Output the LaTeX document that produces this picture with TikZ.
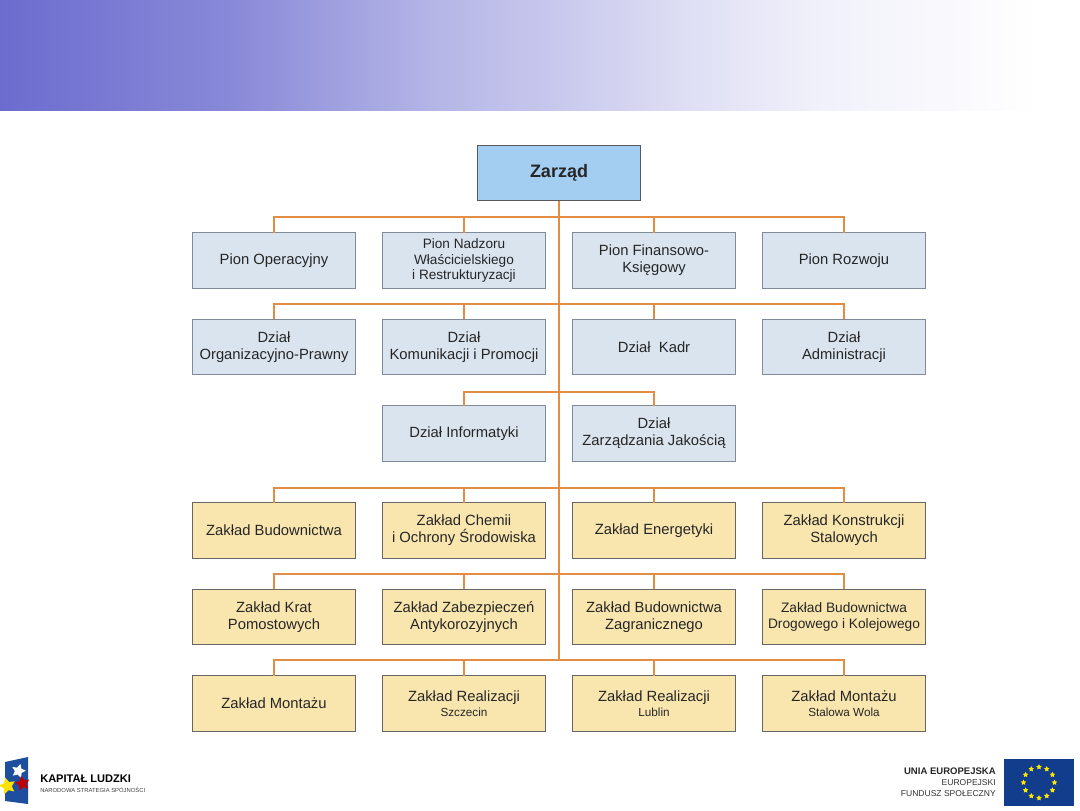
\documentclass[tikz,border=0pt]{standalone}
\usepackage{fontspec}
\setmainfont{Liberation Sans}
\usepackage{tikz}
\usetikzlibrary{
  positioning,
  calc,
  shapes.geometric
}
\definecolor{bannerblue}{HTML}{6C6CCF}
\definecolor{boardfill}{HTML}{A3CEF1}
\definecolor{pionfill}{HTML}{DAE4EE}
\definecolor{plantfill}{HTML}{F9E6AE}
\definecolor{edgegray}{HTML}{7F8B99}
\definecolor{wireorange}{HTML}{E28D43}
\definecolor{flagblue}{HTML}{123C8C}
\definecolor{logoblue}{HTML}{1D4F9E}
\pgfdeclarehorizontalshading{bannerfade}{100bp}{
  color(0bp)=(bannerblue);
  color(25bp)=(bannerblue);
  color(35.9bp)=(bannerblue!80!white);
  color(45.2bp)=(bannerblue!50!white);
  color(50bp)=(bannerblue!39!white);
  color(57bp)=(bannerblue!22!white);
  color(62.8bp)=(bannerblue!10!white);
  color(73.1bp)=(white);
  color(100bp)=(white)
}
\tikzset{
  unit/.style={
    draw=edgegray,
    semithick,
    minimum width=122.5pt,
    minimum height=41.5pt,
    outer sep=0pt,
    align=center,
    inner sep=0pt,
    font=\fontsize{11.1pt}{12.6pt}\selectfont,
    text=black!85,
  },
  board/.style={
    unit,
    fill=boardfill,
    draw=black!65,
    font=\fontsize{13.5pt}{15pt}\selectfont\bfseries,
  },
  pion/.style={
    unit,
    fill=pionfill,
  },
  plant/.style={
    unit,
    fill=plantfill,
    draw=black!60,
  },
  wire/.style={
    draw=wireorange,
    line width=1.3pt,
  },
  logostar/.style={
    star,
    star point ratio=2,
    inner sep=0pt,
  },
  eustar/.style={
    logostar,
    fill=yellow!90!orange,
    minimum size=4.4pt,
  },
}
\newcommand{\sublabel}[1]{\\[-1.3pt]{\fontsize{8.8pt}{9pt}\selectfont #1}}

\begin{document}
\begin{tikzpicture}[x=0.75pt,y=-0.75pt,node distance=23.3pt and 20pt]
	\useasboundingbox (0,0) rectangle (1080,810);

	% banner
	\fill[shading=bannerfade] (0,0) rectangle (1080,110.7);

	% units
	\node[board] (zarzad) at (559,173) {Zarząd};

	\node[pion] (p1) at (274,260.5) {Pion Operacyjny};
	\node[pion,right=of p1,font=\fontsize{10.2pt}{11.5pt}\selectfont] (p2) {Pion Nadzoru\\Właścicielskiego\\i Restrukturyzacji};
	\node[pion,right=of p2] (p3) {Pion Finansowo-\\Księgowy};
	\node[pion,right=of p3] (p4) {Pion Rozwoju};

	\node[pion,below=of p1] (d1) {Dział\\Organizacyjno-Prawny};
	\node[pion,right=of d1] (d2) {Dział\\Komunikacji i Promocji};
	\node[pion,right=of d2] (d3) {Dział\ \ Kadr};
	\node[pion,right=of d3] (d4) {Dział\\Administracji};

	\node[pion,below=of d2] (i1) {Dział Informatyki};
	\node[pion,right=of i1] (i2) {Dział\\Zarządzania Jakością};

	\node[plant] (z1) at (274,530.5) {Zakład Budownictwa};
	\node[plant,right=of z1] (z2) {Zakład Chemii\\i Ochrony Środowiska};
	\node[plant,right=of z2] (z3) {Zakład Energetyki};
	\node[plant,right=of z3] (z4) {Zakład Konstrukcji\\Stalowych};

	\node[plant,below=of z1] (k1) {Zakład Krat\\Pomostowych};
	\node[plant,right=of k1] (k2) {Zakład Zabezpieczeń\\Antykorozyjnych};
	\node[plant,right=of k2] (k3) {Zakład Budownictwa\\Zagranicznego};
	\node[plant,right=of k3,font=\fontsize{10.3pt}{12.6pt}\selectfont] (k4) {Zakład Budownictwa\\Drogowego i Kolejowego};

	\node[plant,below=of k1] (m1) {Zakład Montażu};
	\node[plant,right=of m1] (m2) {Zakład Realizacji\sublabel{Szczecin}};
	\node[plant,right=of m2] (m3) {Zakład Realizacji\sublabel{Lublin}};
	\node[plant,right=of m3] (m4) {Zakład Montażu\sublabel{Stalowa Wola}};

	% connectors
	\coordinate (b1) at ($(zarzad.south)+(0,16)$);
	\coordinate (b2) at ($(zarzad.south)+(0,103)$);
	\coordinate (b3) at ($(zarzad.south)+(0,191)$);
	\coordinate (b4) at ($(zarzad.south)+(0,287)$);
	\coordinate (b5) at ($(zarzad.south)+(0,373)$);
	\coordinate (b6) at ($(zarzad.south)+(0,459)$);
	\draw[wire] (zarzad.south) -- (b6);
	\foreach \bus/\row in {b1/p,b2/d,b4/z,b5/k,b6/m}
		\foreach \col in {1,...,4}
			\draw[wire] (\bus) -| (\row\col.north);
	\draw[wire] (b3) -| (i1.north);
	\draw[wire] (b3) -| (i2.north);

	% left logo
	\fill[logoblue] (5,762) -- (28,757) -- (28,804) -- (5,801) -- cycle;
	\node[logostar,fill=white,minimum size=11pt,shape border rotate=-15] (swhite) at (18.5,771) {};
	\node[logostar,fill=red!75!black,minimum size=11.5pt,shape border rotate=12] (sred) at (22.5,783.5) {};
	\node[logostar,fill=yellow!85!orange,minimum size=13pt,shape border rotate=15] (syellow) at (7.5,786) {};
	\node[anchor=west,inner sep=0pt,font=\fontsize{8.3pt}{10pt}\selectfont\bfseries] (kl) at (40,779) {KAPITAŁ LUDZKI};
	\node[anchor=west,inner sep=0pt,font=\fontsize{4.4pt}{5pt}\selectfont,text=black!75] (nss) at (40,790) {NARODOWA STRATEGIA SPÓJNOŚCI};

	% right logo
	\node[anchor=east,inner sep=0pt,font=\fontsize{7.15pt}{8pt}\selectfont\bfseries,text=black!85] (ue) at (996,771) {UNIA EUROPEJSKA};
	\node[anchor=east,inner sep=0pt,font=\fontsize{6.4pt}{8pt}\selectfont,text=black!80] (ee) at (996,783) {EUROPEJSKI};
	\node[anchor=east,inner sep=0pt,font=\fontsize{6.4pt}{8pt}\selectfont,text=black!80] (fs) at (996,794) {FUNDUSZ SPOŁECZNY};
	\fill[flagblue] (1004,759) rectangle (1074,806);
	\foreach \i in {1,...,12}
		\node[eustar] (star\i) at ({1039+15.5*cos(30*\i)},{782.5+15.5*sin(30*\i)}) {};
\end{tikzpicture}
\end{document}
